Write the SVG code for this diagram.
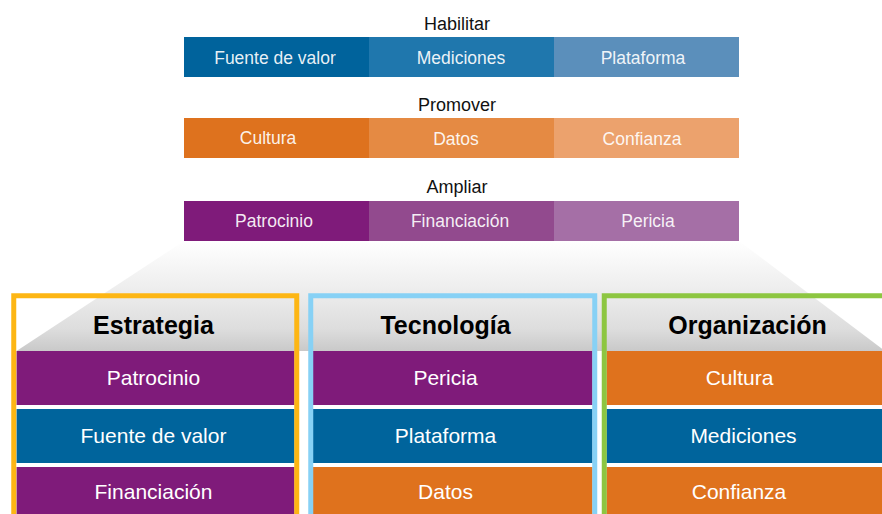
<svg xmlns="http://www.w3.org/2000/svg" width="882" height="514" viewBox="0 0 882 514">
<defs>
<linearGradient id="shade" gradientUnits="userSpaceOnUse" x1="0" y1="241" x2="0" y2="351">
<stop offset="0" stop-color="#ffffff"/>
<stop offset="0.52" stop-color="#eaeaea"/>
<stop offset="0.8" stop-color="#dddddd"/>
<stop offset="1" stop-color="#c9c9c9"/>
</linearGradient>
<style>
text{font-family:"Liberation Sans",Arial,Helvetica,sans-serif;text-anchor:middle}
.lbl{font-size:18px;fill:#111111}
.bt{font-size:17.5px;fill:#ffffff;fill-opacity:0.92}
.hd{font-size:25px;font-weight:bold;fill:#000000}
.rt{font-size:21px;fill:#ffffff}
.frame{fill:none;stroke-width:5}
.pur{fill:#7f1b7a}.blu{fill:#00649c}.org{fill:#df721d}
</style>
</defs>
<rect width="882" height="514" fill="#ffffff"/>

<g id="habilitar">
<text class="lbl" x="457" y="30">Habilitar</text>
<rect x="184" y="37" width="185.5" height="40" fill="#00639c"/>
<rect x="369" y="37" width="185.5" height="40" fill="#1f77ad"/>
<rect x="554" y="37" width="185" height="40" fill="#5b8fbb"/>
<text class="bt" x="275" y="64">Fuente de valor</text>
<text class="bt" x="461" y="64">Mediciones</text>
<text class="bt" x="643" y="64">Plataforma</text>
</g>

<g id="promover">
<text class="lbl" x="457" y="111">Promover</text>
<rect x="184" y="118" width="185.5" height="40" fill="#de721e"/>
<rect x="369" y="118" width="185.5" height="40" fill="#e58a43"/>
<rect x="554" y="118" width="185" height="40" fill="#eca26d"/>
<text class="bt" x="268" y="144">Cultura</text>
<text class="bt" x="456" y="145">Datos</text>
<text class="bt" x="642" y="145">Confianza</text>
</g>

<g id="ampliar">
<text class="lbl" x="457" y="193">Ampliar</text>
<rect x="184" y="201" width="185.5" height="40" fill="#7f1b7a"/>
<rect x="369" y="201" width="185.5" height="40" fill="#924a8e"/>
<rect x="554" y="201" width="185" height="40" fill="#a56fa6"/>
<text class="bt" x="274" y="227">Patrocinio</text>
<text class="bt" x="460" y="227">Financiación</text>
<text class="bt" x="648" y="227">Pericia</text>
</g>

<g id="projection">
<polygon points="184,241 739,241 885,351 16.5,351" fill="url(#shade)"/>
</g>

<g id="connectors"/>

<g id="estrategia">
<text class="hd" x="153.5" y="334">Estrategia</text>
<rect class="pur" x="16.5" y="351" width="278" height="54"/>
<rect class="blu" x="16.5" y="409" width="278" height="54"/>
<rect class="pur" x="16.5" y="467" width="278" height="54"/>
<text class="rt" x="153.5" y="384.5">Patrocinio</text>
<text class="rt" x="153.5" y="442.5">Fuente de valor</text>
<text class="rt" x="153.5" y="499">Financiación</text>
<rect class="frame" x="13.75" y="295.75" width="283" height="240" stroke="#fdb614"/>
</g>

<g id="tecnologia">
<text class="hd" x="445.5" y="334">Tecnología</text>
<rect class="pur" x="313" y="351" width="279.5" height="54"/>
<rect class="blu" x="313" y="409" width="279.5" height="54"/>
<rect class="org" x="313" y="467" width="279.5" height="54"/>
<text class="rt" x="445.5" y="385">Pericia</text>
<text class="rt" x="445.5" y="443">Plataforma</text>
<text class="rt" x="445.5" y="499">Datos</text>
<rect class="frame" x="310.75" y="295.75" width="284" height="240" stroke="#87d1f5"/>
</g>

<g id="organizacion">
<text class="hd" x="747.5" y="334">Organización</text>
<rect class="org" x="606.5" y="351" width="280" height="54"/>
<rect class="blu" x="606.5" y="409" width="280" height="54"/>
<rect class="org" x="606.5" y="467" width="280" height="54"/>
<text class="rt" x="739.5" y="385">Cultura</text>
<text class="rt" x="743.5" y="443">Mediciones</text>
<text class="rt" x="739" y="499">Confianza</text>
<rect class="frame" x="604.25" y="295.75" width="290" height="240" stroke="#8dc641"/>
</g>
</svg>
